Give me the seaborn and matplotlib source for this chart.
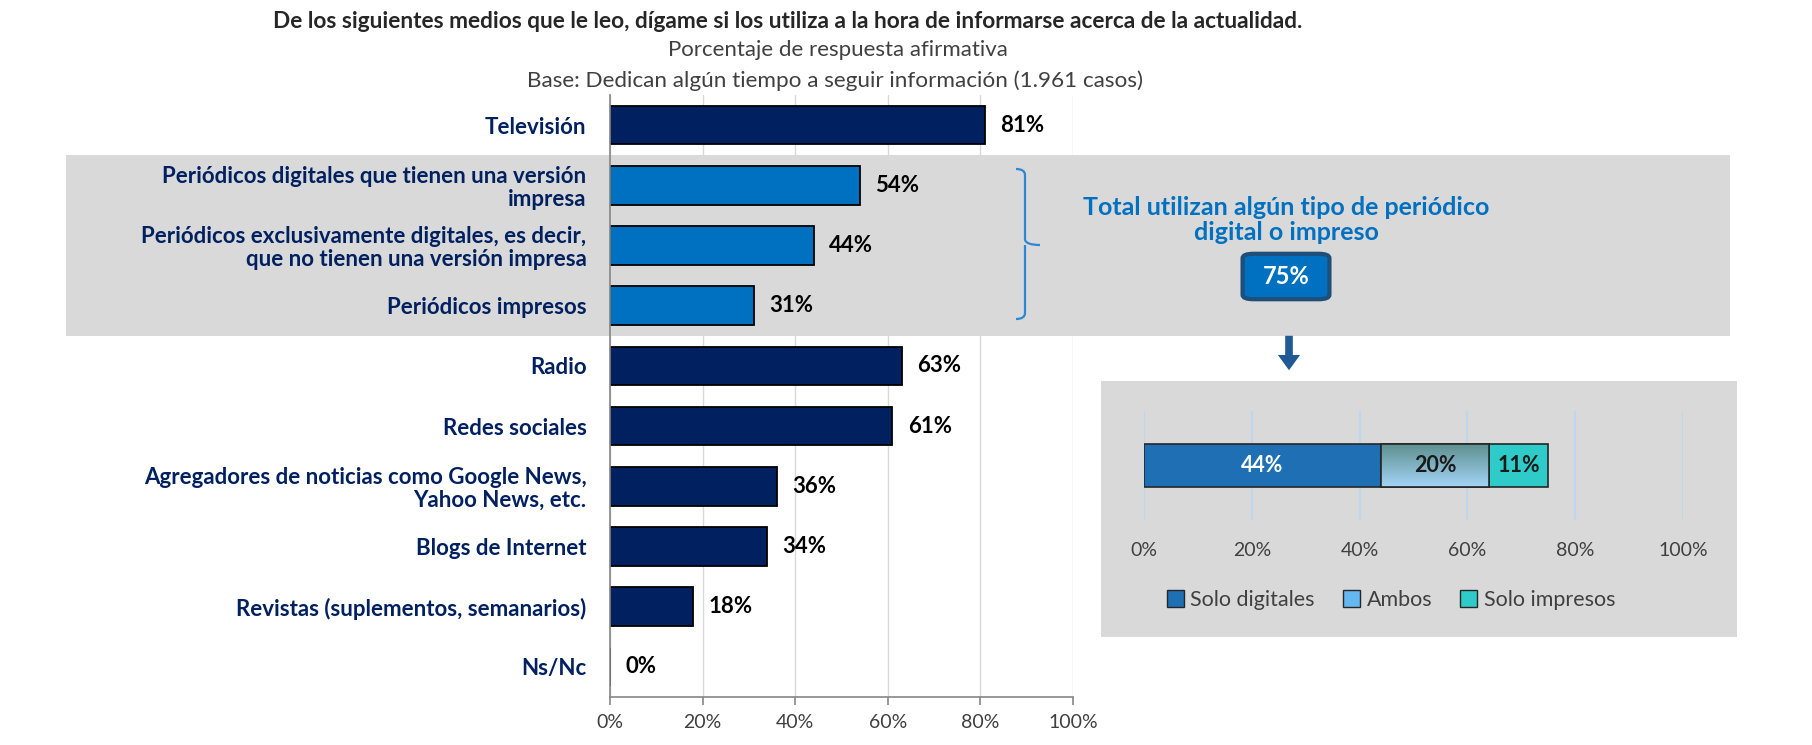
import numpy as np
import pandas as pd
import matplotlib
matplotlib.use("Agg")
import matplotlib.pyplot as plt
import seaborn as sns
from matplotlib.patches import Rectangle, FancyBboxPatch, FancyArrowPatch, PathPatch, Patch
from matplotlib.path import Path
from matplotlib.colors import LinearSegmentedColormap
import matplotlib.transforms as mtransforms

# ---------------- data ----------------
categories = [
    "Televisión",
    "Periódicos digitales que tienen una versión\nimpresa",
    "Periódicos exclusivamente digitales, es decir,\nque no tienen una versión impresa",
    "Periódicos impresos",
    "Radio",
    "Redes sociales",
    "Agregadores de noticias como Google News,\nYahoo News, etc.",
    "Blogs de Internet",
    "Revistas (suplementos, semanarios)",
    "Ns/Nc",
]
values = [81, 54, 44, 31, 63, 61, 36, 34, 18, 0]
groups = ["otro", "periodico", "periodico", "periodico", "otro",
          "otro", "otro", "otro", "otro", "otro"]
xticks = [0, 20, 40, 60, 80, 100]
xtick_labels = ["0%", "20%", "40%", "60%", "80%", "100%"]

split_labels = ["Solo digitales", "Ambos", "Solo impresos"]
split_values = [44, 20, 11]
total_periodicos = 75

title = "De los siguientes medios que le leo, dígame si los utiliza a la hora de informarse acerca de la actualidad."
subtitle1 = "Porcentaje de respuesta afirmativa"
subtitle2 = "Base: Dedican algún tiempo a seguir información (1.961 casos)"
annot_text = "Total utilizan algún tipo de periódico\ndigital o impreso"

# ---------------- style ----------------
sns.set_theme(style="white")
plt.rcParams['font.family'] = ['Lato', 'DejaVu Sans']

W, H = 1812, 745
fig = plt.figure(figsize=(W / 100, H / 100), dpi=100)
fig.patch.set_facecolor("white")

def fx(px):
    return px / W

def fy(py):
    return 1 - py / H

NAVY = "#002060"
MID = "#0070C0"
GRAY_BAND = "#D9D9D9"

# ---------------- main axes ----------------
ax = fig.add_axes([fx(610), fy(697), (1073 - 610) / W, (697 - 95) / H])
ax.patch.set_visible(False)

df = pd.DataFrame({"medio": categories, "pct": values, "grupo": groups})
sns.barplot(data=df, x="pct", y="medio", hue="grupo",
            palette={"otro": NAVY, "periodico": MID}, saturation=1,
            dodge=False, legend=False, width=0.64,
            edgecolor="black", linewidth=1.3, ax=ax, orient="h")

for c in ax.containers:
    ax.bar_label(c, fmt="{:.0f}%", padding=11, fontweight="bold",
                 fontsize=16, color="black")

ax.set_xlim(0, 100)
ax.set_ylim(9.5, -0.5)
ax.set_xticks(xticks)
ax.set_xticklabels(xtick_labels)
ax.set_xlabel("")
ax.set_ylabel("")
ax.grid(axis="x", color="#D9D9D9", lw=1)
ax.grid(axis="y", visible=False)
ax.set_axisbelow(True)
for s in ["top", "right"]:
    ax.spines[s].set_visible(False)
for s in ["left", "bottom"]:
    ax.spines[s].set_color("#868686")
    ax.spines[s].set_linewidth(1.2)

ax.set_yticks(np.arange(-0.5, 10, 1), minor=True)
ax.tick_params(axis="y", which="major", length=0, pad=17,
               labelsize=16, labelcolor=NAVY)
ax.tick_params(axis="y", which="minor", length=6, color="#868686", width=1.2, direction="out")
for t in ax.get_yticklabels():
    t.set_fontweight("bold")
    t.set_linespacing(1.1)
ax.tick_params(axis="x", which="major", length=6, color="#868686", width=1.2,
               direction="out", bottom=True, labelsize=14, labelcolor="#404040", pad=6)

# gray band behind newspaper rows
blend = mtransforms.blended_transform_factory(fig.transFigure, ax.transData)
band = Rectangle((fx(66), 0.5), fx(1730) - fx(66), 3.0, transform=blend,
                 facecolor=GRAY_BAND, edgecolor="none", zorder=-5)
fig.add_artist(band)

# curly brace
bx_l, bx_m, bx_t = fx(1016), fx(1025), fx(1040)
by_t, by_m, by_b = fy(169), fy(245), fy(319)
dy = 6 / H
verts = [
    (bx_l, by_t), (bx_m, by_t), (bx_m, by_t - dy),
    (bx_m, by_m + dy), (bx_m, by_m), (bx_t, by_m),
    (bx_m, by_m), (bx_m, by_m - dy),
    (bx_m, by_b + dy), (bx_m, by_b), (bx_l, by_b),
]
codes = [Path.MOVETO, Path.CURVE3, Path.CURVE3,
         Path.LINETO, Path.CURVE3, Path.CURVE3,
         Path.MOVETO, Path.CURVE3,
         Path.LINETO, Path.CURVE3, Path.CURVE3]
brace = PathPatch(Path(verts, codes), transform=fig.transFigure,
                  facecolor="none", edgecolor="#2E86D6", lw=1.6)
fig.add_artist(brace)

# annotation text and total box
fig.text(fx(1286), fy(220), annot_text, ha="center", va="center",
         fontsize=18, fontweight="bold", color=MID, linespacing=1.12)
box = FancyBboxPatch((fx(1248), fy(297)), fx(1324) - fx(1248), (297 - 256) / H,
                     boxstyle="round,pad=0.003,rounding_size=0.006",
                     transform=fig.transFigure, facecolor=MID,
                     edgecolor="#1F4E79", lw=3)
fig.add_artist(box)
fig.text(fx(1286), fy(277), f"{total_periodicos}%", ha="center", va="center",
         fontsize=17, fontweight="bold", color="white")

arrow = FancyArrowPatch((fx(1289), fy(333)), (fx(1289), fy(373)),
                        transform=fig.transFigure,
                        arrowstyle="simple,head_width=1.6,head_length=1.1,tail_width=0.55",
                        mutation_scale=10, color="#1F5A94", lw=0)
fig.add_artist(arrow)

# ---------------- inset ----------------
panel = Rectangle((fx(1101), fy(637)), fx(1737) - fx(1101), (637 - 381) / H,
                  transform=fig.transFigure, facecolor=GRAY_BAND,
                  edgecolor="none", zorder=-5)
fig.add_artist(panel)

ax2 = fig.add_axes([fx(1144), fy(520), (1683 - 1144) / W, (520 - 411) / H])
ax2.patch.set_visible(False)
split_colors = ["#1F6FB5", "#63B8F2", "#2ECBC9"]
lefts = np.concatenate([[0], np.cumsum(split_values)[:-1]])
bh = 0.39
bars = []
for lab, v, l, col in zip(split_labels, split_values, lefts, split_colors):
    b = ax2.barh(0, v, left=l, height=bh, color=col, edgecolor="#262626",
                 lw=1.2, label=lab, zorder=3)
    bars.append(b)

# gradient fill for "Ambos"
amb = bars[1].patches[0]
grad = np.linspace(0, 1, 100).reshape(-1, 1)
cmap = LinearSegmentedColormap.from_list("amb", ["#5E9090", "#A3D4F7"])
im = ax2.imshow(grad, cmap=cmap, aspect="auto",
                extent=(lefts[1], lefts[1] + split_values[1], bh / 2, -bh / 2),
                zorder=3.5)
im.set_clip_path(amb)
ax2.barh(0, split_values[1], left=lefts[1], height=bh, facecolor="none",
         edgecolor="#262626", lw=1.2, zorder=4)

label_colors = ["white", "#1a1a1a", "#1a1a1a"]
for v, l, tc in zip(split_values, lefts, label_colors):
    ax2.text(l + v / 2, 0, f"{v}%", ha="center", va="center",
             fontsize=15.5, fontweight="bold", color=tc, zorder=5)

ax2.set_xlim(0, 100)
ax2.set_ylim(0.5, -0.5)
ax2.set_xticks(xticks)
ax2.set_xticklabels(xtick_labels)
ax2.set_yticks([])
ax2.grid(axis="x", color="#BDD7EE", lw=1.5)
ax2.grid(axis="y", visible=False)
ax2.set_axisbelow(True)
for s in ax2.spines.values():
    s.set_visible(False)
ax2.tick_params(axis="x", length=0, labelsize=14, labelcolor="#404040", pad=16)

handles = [Patch(facecolor=c, edgecolor="#262626", lw=1) for c in split_colors]
fig.legend(handles, split_labels, loc="center",
           bbox_to_anchor=(fx(1391), fy(600)), ncol=3, frameon=False,
           fontsize=15.5, handlelength=0.8, handleheight=0.8,
           handletextpad=0.3, columnspacing=1.3, labelcolor="#404040")

# ---------------- titles ----------------
fig.text(fx(788), fy(21), title, ha="center", va="center",
         fontsize=16.3, fontweight="bold", color="#262626")
fig.text(fx(838), fy(50), subtitle1, ha="center", va="center",
         fontsize=16, color="#404040")
fig.text(fx(835), fy(81), subtitle2, ha="center", va="center",
         fontsize=16.2, color="#404040")

fig.savefig("out.png", dpi=100)
